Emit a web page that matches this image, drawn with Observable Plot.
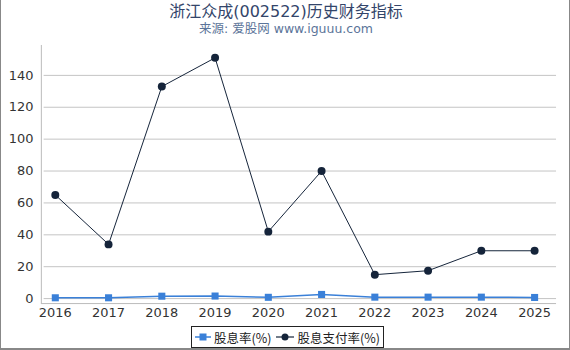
<!DOCTYPE html>
<html><head><meta charset="utf-8">
<script src="https://cdn.jsdelivr.net/npm/d3@7"></script>
<script src="https://cdn.jsdelivr.net/npm/@observablehq/plot@0.6"></script>
<style>
html,body{margin:0;padding:0;background:#fff;}
#wrap{position:relative;width:568px;height:348px;border-left:1px solid #888;border-right:1px solid #888;border-bottom:2px solid #888;overflow:hidden;font-family:"DejaVu Sans","Noto Sans CJK SC",sans-serif;}
#title{position:absolute;left:0;top:2px;width:570px;line-height:20px;height:20px;text-align:center;font-size:16px;color:#33456a;font-family:"DejaVu Sans","Noto Sans CJK SC",sans-serif;}
#sub{position:absolute;left:0;top:21px;width:570px;line-height:16px;height:16px;text-align:center;font-size:12.5px;color:#5b7499;font-family:"DejaVu Sans","Noto Sans CJK SC",sans-serif;}
#chart{position:absolute;left:-1px;top:40px;}
#legend{position:absolute;left:190px;top:326px;height:20px;border:1px solid #222;padding:0 3px;font-size:12.5px;color:#222;display:flex;align-items:center;gap:3px;white-space:nowrap;font-family:"Noto Sans CJK SC",sans-serif;}
#legend svg{vertical-align:middle;}
</style></head>
<body><div id="wrap">
<div id="title">浙江众成(002522)历史财务指标</div>
<div id="sub">来源: 爱股网 www.iguuu.com</div>
<div id="chart"></div>
<div id="legend">
<svg width="16" height="10"><line x1="0" y1="5" x2="16" y2="5" stroke="#3a80d8" stroke-width="1.5"/><rect x="4.5" y="1.5" width="7" height="7" fill="#3a80d8"/></svg><span>股息率(%)</span>
<svg width="18" height="10" style="margin-left:2px"><line x1="0" y1="5" x2="18" y2="5" stroke="#15243a" stroke-width="1.2"/><circle cx="9" cy="5" r="3.5" fill="#15243a"/></svg><span>股息支付率(%)</span>
</div>
</div>
<script>
const years = [2016, 2017, 2018, 2019, 2020, 2021, 2022, 2023, 2024, 2025];
const dividendYield = [0.5, 0.5, 1.5, 1.6, 0.8, 2.6, 0.9, 0.9, 0.9, 0.7];
const payoutRatio = [65, 34, 133, 151, 42, 80, 15, 17.5, 30, 30];
const yTicks = [0, 20, 40, 60, 80, 100, 120, 140];

const yieldData = years.map((y, i) => ({year: y, value: dividendYield[i]}));
const payoutData = years.map((y, i) => ({year: y, value: payoutRatio[i]}));

const chart = Plot.plot({
  width: 571, height: 285,
  marginTop: 5, marginBottom: 21, marginLeft: 41, marginRight: 13,
  style: {fontSize: "13px", fontFamily: "DejaVu Sans, sans-serif", color: "#333", background: "transparent"},
  x: {type: "linear", domain: [2015.738, 2025.412], ticks: years, tickFormat: d => String(d), tickSize: 0, tickPadding: 4, label: null},
  y: {domain: [-3.125, 158.75], ticks: yTicks, tickSize: 0, tickPadding: 8, label: null},
  marks: [
    Plot.gridY(yTicks, {stroke: "#c4c4c4", strokeOpacity: 1, x1: 2015.79}),
    Plot.ruleX([2015.738], {stroke: "#bbb"}),
    Plot.ruleY([-3.125], {stroke: "#bbb"}),
    Plot.line(yieldData, {x: "year", y: "value", stroke: "#3a80d8", strokeWidth: 1.5}),
    Plot.dot(yieldData, {x: "year", y: "value", symbol: "square", r: 4, fill: "#3a80d8"}),
    Plot.line(payoutData, {x: "year", y: "value", stroke: "#15243a", strokeWidth: 1}),
    Plot.dot(payoutData, {x: "year", y: "value", r: 4, fill: "#15243a"})
  ]
});
document.getElementById("chart").appendChild(chart);
</script>
</body></html>
